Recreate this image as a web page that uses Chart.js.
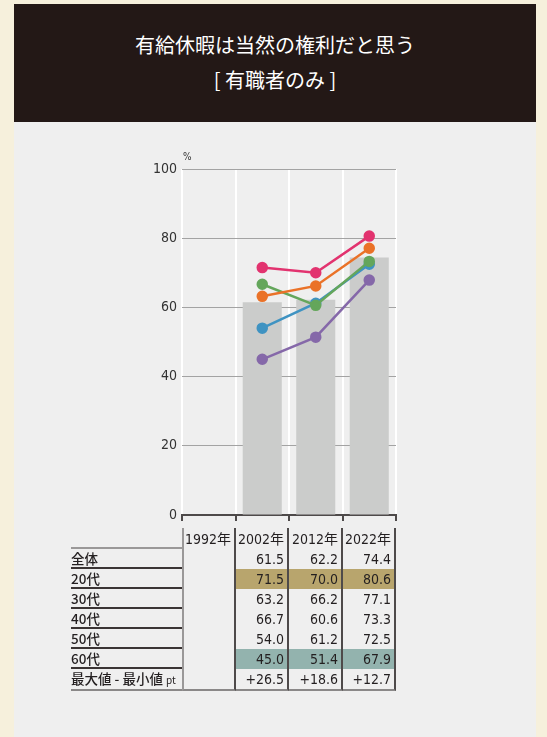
<!DOCTYPE html>
<html lang="ja">
<head>
<meta charset="utf-8">
<script src="https://cdn.jsdelivr.net/npm/chart.js@4/dist/chart.umd.min.js"></script>
<style>
  html, body { margin: 0; padding: 0; }
  body {
    width: 547px; height: 737px; position: relative; overflow: hidden;
    background: #f6f0dc;
    font-family: "DejaVu Sans Condensed", "Liberation Sans Narrow", Roboto, "Noto Sans CJK JP", sans-serif;
    color: #231f20;
  }
  #header {
    position: absolute; left: 14px; top: 4px; width: 522px; height: 118px;
    background: #231816; color: #fff; text-align: center;
    font-family: "Noto Sans CJK JP", sans-serif; font-size: 20px; font-weight: 400;
  }
  #header .l1 { position: absolute; left: 0; right: 0; top: 27px; line-height: 28px; }
  #header .l2 { position: absolute; left: 0; right: 0; top: 62px; line-height: 28px; }
  #panel {
    position: absolute; left: 14px; top: 122px; width: 522px; height: 615px;
    background: #efefef;
  }
  #chart { position: absolute; left: 110px; top: 140px; }
  #pct { position: absolute; left: 183px; top: 151px; font-size: 10px; color: #333; }
  table {
    position: absolute; left: 71px; top: 528px; border-collapse: separate; border-spacing: 0;
    font-size: 14px; table-layout: fixed;
  }
  td { height: 18px; padding: 0 3px 0 0; line-height: 18px; white-space: nowrap; text-align: right; }
  td.lab { width: 111px; text-align: left; padding: 0; border-bottom: 2px solid #3a3434;
    font-family: "Noto Sans CJK JP", sans-serif; font-size: 13.5px; font-weight: 500; }
  tr.head td { height: 19px; }
  tr.head td.lab { border-bottom: 2px solid #9a9898; }
  td.c0 { width: 47px; border-left: 2px solid #9a9898; border-right: 2px solid #4e4a4a; }
  td.c1 { width: 48px; border-right: 2px solid #4e4a4a; }
  td.c2 { width: 49px; border-right: 2px solid #4e4a4a; }
  td.c3 { width: 48px; border-right: 2px solid #4e4a4a; }
  tr.y20 td.v { background: #b8a56d; }
  tr.y60 td.v { background: #93b3ae; }
  tr.last td { border-bottom: 2px solid #8a8888; }
  .small { font-size: 10px; font-weight: 400; }
</style>
</head>
<body>
<div id="header">
  <div class="l1">有給休暇は当然の権利だと思う</div>
  <div class="l2">[ 有職者のみ ]</div>
</div>
<div id="panel"></div>
<canvas id="chart" width="310" height="400"></canvas>
<div id="pct">%</div>
<table id="tbl"></table>
<script>
"use strict";

const years = ['1992年', '2002年', '2012年', '2022年'];
const overall = [null, 61.5, 62.2, 74.4];
const age20 = [null, 71.5, 70.0, 80.6];
const age30 = [null, 63.2, 66.2, 77.1];
const age40 = [null, 66.7, 60.6, 73.3];
const age50 = [null, 54.0, 61.2, 72.5];
const age60 = [null, 45.0, 51.4, 67.9];
const spread = [null, '+26.5', '+18.6', '+12.7'];
const yTicks = [0, 20, 40, 60, 80, 100];

const lineColors = {
    age20: '#e2336f',
    age30: '#ea7228',
    age40: '#64a65b',
    age50: '#3f93c2',
    age60: '#8568a9'
};

renderChart();
renderTable();

/**
 * Draws the bar + line chart
 */
function renderChart() {
    const ctx = document.getElementById('chart');

    function lineSet(label, data, color) {
        return {
            type: 'line',
            label: label,
            data: data,
            borderColor: color,
            backgroundColor: color,
            pointBackgroundColor: color,
            pointBorderColor: color,
            borderWidth: 2.5,
            pointRadius: 4.5,
            pointHoverRadius: 4.5,
            order: 0
        };
    }

    new Chart(ctx, {
        type: 'bar',
        data: {
            labels: years,
            datasets: [
                lineSet('20代', age20, lineColors.age20),
                lineSet('30代', age30, lineColors.age30),
                lineSet('40代', age40, lineColors.age40),
                lineSet('50代', age50, lineColors.age50),
                lineSet('60代', age60, lineColors.age60),
                {
                    type: 'bar',
                    label: '全体',
                    data: overall,
                    backgroundColor: '#cbcccb',
                    borderWidth: 0,
                    categoryPercentage: 1,
                    barPercentage: 0.73,
                    order: 10
                }
            ]
        },
        options: {
            responsive: false,
            devicePixelRatio: 1,
            animation: false,
            layout: { padding: { top: 29, right: 24, bottom: 0, left: 0 } },
            plugins: { legend: { display: false }, tooltip: { enabled: false } },
            scales: {
                x: {
                    grid: {
                        color: '#ffffff',
                        lineWidth: 2,
                        drawTicks: true,
                        tickLength: 6,
                        tickColor: '#4e4a4a',
                        tickWidth: 2
                    },
                    border: { display: true, color: '#4e4a4a', width: 2 },
                    ticks: { display: false },
                    afterFit(scale) { scale.height = 25; }
                },
                y: {
                    min: 0,
                    max: 100,
                    afterBuildTicks(scale) {
                        scale.ticks = yTicks.map(v => ({ value: v }));
                    },
                    grid: {
                        color: ctx => ctx.tick && ctx.tick.value === 0 ? 'rgba(0,0,0,0)' : '#a3a3a3',
                        lineWidth: 1,
                        drawTicks: false
                    },
                    border: { display: false },
                    ticks: {
                        padding: 5,
                        color: '#333333',
                        font: { family: '"DejaVu Sans Condensed", "Liberation Sans Narrow", Roboto, sans-serif', size: 14 }
                    },
                    afterFit(scale) { scale.width = 72; }
                }
            }
        }
    });
}

/**
 * Builds the value table under the chart
 */
function renderTable() {
    const rows = [
        { label: '全体', values: overall, cls: '' },
        { label: '20代', values: age20, cls: 'y20' },
        { label: '30代', values: age30, cls: '' },
        { label: '40代', values: age40, cls: '' },
        { label: '50代', values: age50, cls: '' },
        { label: '60代', values: age60, cls: 'y60' }
    ];
    const tbl = document.getElementById('tbl');
    let html = '<tr class="head"><td class="lab"></td>';
    years.forEach((y, i) => { html += '<td class="c' + i + '">' + y + '</td>'; });
    html += '</tr>';
    rows.forEach(r => {
        html += '<tr class="' + r.cls + '"><td class="lab">' + r.label + '</td>';
        r.values.forEach((v, i) => {
            const txt = v === null ? '' : v.toFixed(1);
            html += '<td class="c' + i + (v === null ? '' : ' v') + '">' + txt + '</td>';
        });
        html += '</tr>';
    });
    html += '<tr class="last"><td class="lab">最大値 - 最小値 <span class="small">pt</span></td>';
    spread.forEach((v, i) => { html += '<td class="c' + i + '">' + (v || '') + '</td>'; });
    html += '</tr>';
    tbl.innerHTML = html;
}
</script>
</body>
</html>
